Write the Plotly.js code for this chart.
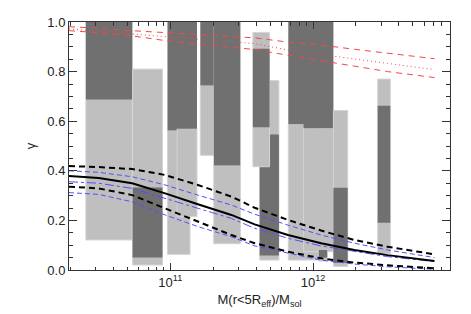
<!DOCTYPE html>
<html>
<head>
<meta charset="utf-8">
<script src="https://cdn.plot.ly/plotly-3.0.1.min.js"></script>
<style>html,body{margin:0;padding:0;background:#fff;}#chart{width:471px;height:314px;}</style>
</head>
<body>
<div id="chart"></div>
<script>
// ---- galaxy boxes (drawn in this order: light box, then dark box) ----
const galMassLo  = [2.56e10, 5.44e10, 9.55e10, 1.117e11, 1.622e11, 2.015e11, 4.23e11, 3.79e11, 6.71e11, 8.59e11, 1.098e12, 1.39e12, 2.84e12];
const galMassHi  = [5.41e10, 8.81e10, 1.374e11, 1.538e11, 2.015e11, 3.10e11, 5.77e11, 4.96e11, 1.098e12, 1.39e12, 1.257e12, 1.75e12, 3.48e12];
const lightLo    = [0.121, 0.020, 0.063, 0.215, 0.4625, 0.106, 0.040, 0.4165, 0.040, 0.074, 0.036, 0.014, 0.066];
const lightHi    = [1.000, 0.810, 0.562, 0.570, 0.744, 0.421, 0.764, 0.958, 0.5875, 0.572, 0.081, 0.643, 0.770];
const darkLo     = [0.687, 0.050, 0.562, 0.570, 0.744, 0.421, 0.058, 0.576, 0.5875, 0.572, 0.050, 0.028, 0.191];
const darkHi     = [1.000, 0.333, 1.000, 1.000, 1.000, 1.000, 0.546, 0.892, 1.000, 1.000, 0.081, 0.332, 0.6625];

// ---- model curves ----
const lineMass   = [1.95e10, 3.15e10, 5.4e10, 9.2e10, 1.56e11, 2.68e11, 3.9e11, 6.67e11, 1.14e12, 1.95e12, 3.33e12, 7.1e12];
const blackMid   = [0.379, 0.371, 0.350, 0.309, 0.265, 0.222, 0.184, 0.141, 0.108, 0.081, 0.060, 0.036];
const blackUp    = [0.419, 0.415, 0.407, 0.383, 0.343, 0.296, 0.251, 0.202, 0.159, 0.121, 0.094, 0.063];
const blackLow   = [0.336, 0.329, 0.302, 0.249, 0.195, 0.141, 0.108, 0.074, 0.047, 0.030, 0.019, 0.007];
const blueUp     = [0.400, 0.394, 0.376, 0.343, 0.302, 0.262, 0.225, 0.181, 0.141, 0.108, 0.081, 0.050];
const blueMid    = [0.356, 0.350, 0.329, 0.289, 0.249, 0.208, 0.168, 0.128, 0.097, 0.074, 0.054, 0.034];
const blueLow    = [0.312, 0.305, 0.275, 0.222, 0.175, 0.134, 0.097, 0.067, 0.040, 0.024, 0.013, 0.003];
const redUp      = [0.981, 0.975, 0.965, 0.957, 0.950, 0.944, 0.936, 0.919, 0.907, 0.890, 0.874, 0.852];
const redMid     = [0.972, 0.964, 0.952, 0.941, 0.931, 0.921, 0.913, 0.887, 0.870, 0.850, 0.833, 0.808];
const redLow     = [0.965, 0.957, 0.944, 0.925, 0.911, 0.898, 0.889, 0.866, 0.844, 0.820, 0.800, 0.776];

// ---- axis ticks ----
const xTickVals  = [1e11, 1e12];
const xTickText  = ['10<sup>11</sup>', '10<sup>12</sup>'];
const xMinorVals = [2e10,3e10,4e10,5e10,6e10,7e10,8e10,9e10,2e11,3e11,4e11,5e11,6e11,7e11,8e11,9e11,2e12,3e12,4e12,5e12,6e12,7e12,8e12,9e12];
const yTickVals  = [0, 0.2, 0.4, 0.6, 0.8, 1.0];
const yTickText  = ['0.0', '0.2', '0.4', '0.6', '0.8', '1.0'];

const LIGHT = 'rgb(191,191,191)';
const LIGHT_EDGE = 'rgb(212,212,212)';
const DARK = 'rgb(112,112,112)';

function box(x0, x1, y0, y1, fill, edge) {
  return {
    type: 'scatter',
    x: [x0, x1, x1, x0, x0],
    y: [y0, y0, y1, y1, y0],
    fill: 'toself',
    fillcolor: fill,
    mode: edge ? 'lines' : 'none',
    line: edge ? {color: edge, width: 1} : undefined,
    hoverinfo: 'skip',
    showlegend: false
  };
}

const traces = [];
for (let i = 0; i < galMassLo.length; i++) {
  traces.push(box(galMassLo[i], galMassHi[i], lightLo[i], lightHi[i], LIGHT, LIGHT_EDGE));
  traces.push(box(galMassLo[i], galMassHi[i], darkLo[i], darkHi[i], DARK, null));
}

function curve(y, color, width, dash) {
  return {type: 'scatter', mode: 'lines', x: lineMass, y: y,
          line: {color: color, width: width, dash: dash}, hoverinfo: 'skip', showlegend: false};
}
const BLUE = 'rgb(80,80,255)';
const RED = 'rgb(245,70,70)';
traces.push(curve(redUp, RED, 1, '6px,5px'));
traces.push(curve(redMid, RED, 1, '1px,3px'));
traces.push(curve(redLow, RED, 1, '6px,5px'));
traces.push(curve(blueUp, BLUE, 1, '5px,3px'));
traces.push(curve(blueMid, BLUE, 1, 'dashdot'));
traces.push(curve(blueLow, BLUE, 1, '5px,3px'));
traces.push(curve(blackUp, '#000', 2, '6px,4px'));
traces.push(curve(blackLow, '#000', 2, '6px,4px'));
traces.push(curve(blackMid, '#000', 2, 'solid'));

const AX = '#333';
const layout = {
  width: 471, height: 314,
  margin: {l: 69, r: 21, t: 22, b: 44},
  paper_bgcolor: '#fff', plot_bgcolor: '#fff',
  font: {family: '"Liberation Sans", Arial, Helvetica, sans-serif', size: 13, color: '#222'},
  showlegend: false,
  xaxis: {
    type: 'log', range: [10.29, 12.96],
    showline: true, linecolor: AX, linewidth: 1, mirror: 'ticks',
    showgrid: false, zeroline: false,
    ticks: 'inside', ticklen: 7, tickcolor: AX, tickwidth: 1,
    tickmode: 'array', tickvals: xTickVals, ticktext: xTickText,
    tickfont: {size: 13},
    minor: {tickmode: 'array', tickvals: xMinorVals, ticks: 'inside', ticklen: 3.5, tickcolor: AX, showgrid: false},
    title: {text: 'M(r&lt;5R<sub>eff</sub>)/M<sub>sol</sub>', font: {size: 13}, standoff: 6}
  },
  yaxis: {
    range: [0, 1],
    showline: true, linecolor: AX, linewidth: 1, mirror: 'ticks',
    showgrid: false, zeroline: false,
    ticks: 'inside', ticklen: 8, tickcolor: AX, tickwidth: 1,
    tickmode: 'array', tickvals: yTickVals, ticktext: yTickText,
    tickfont: {size: 13},
    minor: {dtick: 0.05, ticks: 'inside', ticklen: 4, tickcolor: AX, showgrid: false},
    title: {text: 'γ', font: {size: 13}, standoff: 8}
  }
};

Plotly.newPlot('chart', traces, layout, {staticPlot: true, displayModeBar: false});
</script>
</body>
</html>
